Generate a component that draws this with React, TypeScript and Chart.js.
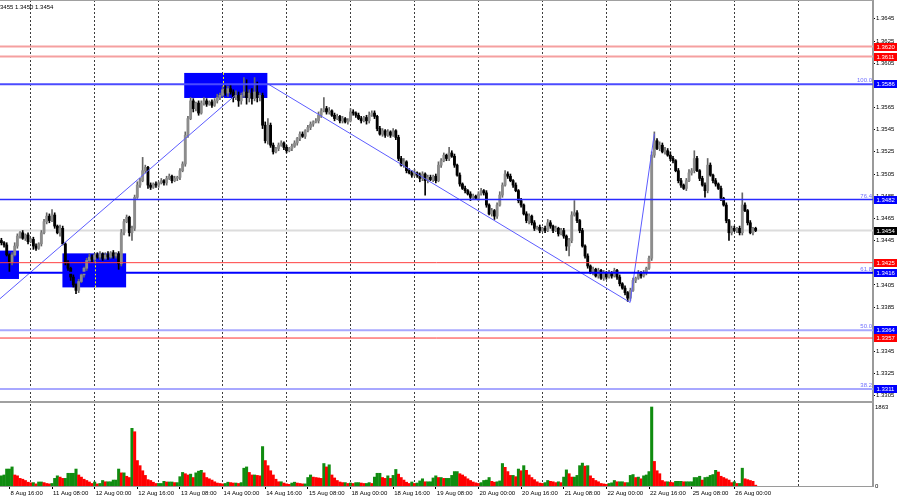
import React, { useEffect, useRef } from "react";
import { Chart, registerables } from "chart.js";

Chart.register(...registerables);

// ---------------- data (H1 bars, prices in pips above 1.3000) ----------------
const PIP_BASE = 1.3;
const PIP = 0.0001;
const FIRST_OPEN = 445;
const CLOSES = [
  443, 441, 432, 425, 432, 440, 449, 452, 447, 450,
  444, 446, 440, 438, 442, 452, 462, 467, 463, 468,
  458, 452, 456, 442, 425, 420, 412, 405, 400, 408,
  414, 420, 427, 430, 428, 432, 430, 433, 429, 432,
  430, 434, 431, 433, 424, 452, 462, 466, 452, 456,
  484, 495, 499, 508, 511, 495, 493, 496, 495, 497,
  499, 497, 501, 503, 499, 501, 502, 508, 514, 540,
  555, 571, 564, 569, 560, 569, 571, 568, 570, 567,
  571, 574, 576, 581, 578, 582, 579, 574, 576, 571,
  576, 579, 574, 578, 573, 579, 574, 576, 549, 535,
  549, 531, 525, 528, 531, 533, 529, 526, 528, 530,
  533, 537, 541, 539, 544, 547, 550, 552, 553, 558,
  562, 564, 561, 562, 558, 555, 557, 553, 555, 552,
  553, 561, 560, 558, 555, 553, 556, 553, 558, 560,
  557, 546, 541, 544, 540, 543, 540, 544, 538, 519,
  513, 516, 508, 506, 504, 506, 504, 501, 505, 499,
  502, 500, 503, 499, 513, 517, 522, 519, 524, 521,
  513, 504, 496, 492, 490, 487, 484, 485, 483, 487,
  490, 488, 477, 469, 472, 467, 477, 486, 495, 505,
  503, 499, 495, 490, 481, 477, 469, 463, 467, 461,
  456, 457, 454, 456, 454, 461, 458, 454, 456, 451,
  454, 449, 440, 445, 468, 470, 463, 454, 440, 431,
  422, 416, 419, 413, 418, 411, 416, 412, 416, 413,
  418, 412, 406, 402, 398, 393, 400, 409, 411, 416,
  413, 416, 420, 429, 522, 535, 528, 531, 525, 526,
  522, 519, 517, 508, 499, 495, 492, 499, 506, 508,
  519, 508, 501, 495, 490, 513, 504, 499, 496, 492,
  483, 477, 463, 452, 456, 454, 456, 452, 477, 472,
  461, 452, 456, 454,
];
const UP_WICK = [
  2, 1, 2, 1, 2, 3, 2, 1, 2, 1,
  2, 1, 2, 2, 1, 2, 2, 3, 2, 5,
  2, 1, 3, 2, 1, 2, 1, 2, 1, 2,
  2, 1, 2, 3, 2, 1, 2, 2, 1, 2,
  3, 1, 2, 1, 2, 3, 2, 2, 1, 2,
  2, 3, 2, 12, 2, 1, 2, 1, 2, 1,
  2, 1, 2, 2, 1, 2, 1, 2, 2, 3,
  2, 3, 2, 1, 2, 2, 3, 2, 1, 2,
  2, 3, 2, 3, 4, 2, 3, 2, 4, 3,
  2, 13, 11, 3, 4, 13, 9, 2, 2, 3,
  6, 2, 2, 1, 2, 2, 1, 2, 1, 2,
  2, 1, 2, 2, 1, 2, 2, 1, 2, 3,
  2, 10, 2, 3, 1, 2, 2, 1, 2, 1,
  2, 3, 2, 1, 2, 2, 1, 2, 3, 2,
  2, 1, 2, 2, 1, 2, 1, 2, 1, 2,
  2, 3, 1, 2, 2, 3, 1, 2, 2, 1,
  2, 2, 1, 2, 3, 2, 2, 1, 5, 2,
  2, 1, 2, 1, 2, 1, 2, 2, 1, 2,
  2, 1, 2, 1, 2, 1, 2, 3, 2, 3,
  2, 2, 1, 2, 1, 2, 1, 2, 2, 1,
  2, 1, 2, 1, 2, 3, 2, 1, 2, 1,
  2, 2, 1, 2, 3, 11, 2, 1, 2, 1,
  2, 1, 2, 1, 2, 1, 2, 1, 2, 1,
  2, 1, 2, 1, 2, 1, 2, 2, 1, 2,
  1, 2, 1, 2, 3, 8, 2, 3, 2, 3,
  2, 3, 2, 1, 2, 2, 1, 2, 3, 2,
  7, 2, 1, 2, 2, 6, 2, 1, 2, 1,
  2, 1, 2, 1, 2, 2, 1, 2, 11, 2,
  1, 2, 1, 1,
];
const DN_WICK = [
  2, 2, 1, 9, 2, 1, 2, 2, 1, 2,
  2, 1, 3, 2, 1, 2, 1, 2, 2, 1,
  2, 1, 3, 1, 2, 2, 3, 2, 3, 2,
  1, 2, 2, 1, 2, 2, 1, 2, 2, 1,
  2, 1, 2, 2, 5, 2, 2, 1, 3, 7,
  2, 1, 2, 1, 2, 3, 2, 1, 2, 2,
  1, 2, 2, 1, 2, 1, 2, 2, 1, 2,
  2, 1, 3, 2, 2, 1, 2, 2, 1, 2,
  1, 2, 2, 1, 2, 3, 2, 4, 2, 5,
  3, 2, 6, 4, 5, 2, 4, 3, 3, 2,
  3, 2, 2, 1, 2, 1, 2, 2, 1, 2,
  1, 2, 2, 1, 2, 1, 2, 2, 1, 2,
  2, 1, 2, 2, 1, 2, 1, 2, 2, 1,
  2, 1, 2, 2, 1, 2, 1, 3, 2, 1,
  2, 2, 1, 2, 2, 1, 2, 1, 2, 2,
  1, 2, 2, 1, 2, 1, 2, 3, 2, 13,
  2, 1, 2, 2, 1, 2, 1, 2, 2, 1,
  2, 1, 2, 1, 2, 1, 3, 2, 1, 2,
  1, 2, 2, 1, 2, 3, 2, 1, 2, 1,
  2, 1, 2, 1, 2, 2, 1, 2, 3, 2,
  2, 1, 2, 1, 2, 1, 2, 2, 1, 2,
  1, 2, 4, 9, 2, 1, 2, 2, 1, 2,
  2, 1, 2, 1, 2, 1, 2, 2, 1, 2,
  1, 2, 2, 1, 2, 3, 2, 1, 2, 1,
  2, 1, 2, 1, 2, 2, 1, 2, 1, 2,
  1, 2, 2, 1, 2, 2, 1, 2, 1, 2,
  2, 1, 2, 1, 6, 2, 1, 2, 2, 1,
  2, 1, 2, 7, 2, 1, 2, 2, 2, 1,
  2, 1, 2, 1,
];
const VOLUMES = [
  240, 260, 400, 400, 450, 260, 240, 180, 160, 130, 90,
  75, 80, 50, 95, 95, 80, 60, 50, 60, 180, 240, 210, 180, 180, 300, 300, 300, 400, 260, 210, 160, 130, 95, 60,
  95, 50, 60, 130, 100, 100, 100, 140, 140, 400, 310, 310, 230, 200, 1360, 1280, 600, 480, 360, 250, 150, 130, 90, 60,
  60, 60, 110, 95, 95, 95, 80, 80, 220, 320, 290, 260, 280, 200, 310, 350, 370, 310, 200, 170, 140, 100, 70, 60,
  50, 60, 90, 80, 70, 70, 60, 80, 420, 450, 320, 260, 260, 250, 240, 930, 600, 480, 360, 260, 160, 100, 100, 70,
  50, 40, 70, 90, 70, 60, 50, 50, 200, 260, 210, 200, 190, 180, 530, 450, 500, 260, 190, 130, 95, 80, 80, 60,
  70, 60, 80, 80, 70, 60, 60, 80, 60, 210, 300, 300, 200, 180, 240, 180, 250, 390, 280, 200, 140, 90, 60, 95,
  60, 70, 120, 170, 100, 100, 100, 190, 240, 200, 200, 180, 180, 180, 250, 340, 340, 290, 260, 220, 170, 130, 95, 75,
  60, 80, 130, 140, 200, 110, 90, 100, 120, 530, 440, 340, 250, 250, 220, 400, 360, 480, 370, 260, 200, 150, 100, 70,
  60, 80, 130, 110, 100, 80, 100, 80, 210, 380, 290, 210, 210, 250, 480, 540, 470, 480, 240, 180, 130, 100, 60, 50,
  40, 60, 75, 130, 100, 100, 100, 80, 80, 250, 270, 200, 210, 170, 240, 260, 340, 1863, 580, 360, 290, 130, 100, 100,
  90, 80, 110, 110, 110, 100, 100, 100, 100, 200, 200, 230, 140, 200, 210, 250, 270, 370, 330, 230, 200, 170, 140, 80,
  100, 60, 60, 420, 170, 150, 130, 110, 20,
];
const DAY_START_BARS = [11, 35, 59, 83, 107, 131, 155, 179, 203, 227, 251, 275, 299];
const LABEL_BARS = [3, 19, 35, 51, 67, 83, 99, 115, 131, 147, 163, 179, 195, 211, 227, 243, 259, 275];
const TIME_LABELS = [
  "8 Aug 16:00", "11 Aug 08:00", "12 Aug 00:00", "12 Aug 16:00", "13 Aug 08:00", "14 Aug 00:00",
  "14 Aug 16:00", "15 Aug 08:00", "18 Aug 00:00", "18 Aug 16:00", "19 Aug 08:00", "20 Aug 00:00",
  "20 Aug 16:00", "21 Aug 08:00", "22 Aug 00:00", "22 Aug 16:00", "25 Aug 08:00", "26 Aug 00:00",
];
const PRICE_TICKS = [
  1.3305, 1.3325, 1.3345, 1.3365, 1.3385, 1.3405, 1.3425, 1.3445, 1.3465,
  1.3485, 1.3505, 1.3525, 1.3545, 1.3565, 1.3585, 1.3605, 1.3625, 1.3645,
];
const VOLUME_TICKS = [0, 1863];
const LEVEL_PRICES = [1.362, 1.3611, 1.3586, 1.3482, 1.3425, 1.3416, 1.3364, 1.3357, 1.3311];
const BID_PRICE = 1.3454;
const AXIS_TAG_PRICES = [1.362, 1.3611, 1.3586, 1.3482, 1.3454, 1.3425, 1.3416, 1.3364, 1.3357, 1.3311];
const FIB_PRICES = [1.3586, 1.3482, 1.3416, 1.3364, 1.3311];
const FIB_TEXT = ["100.0", "76.4", "61.8", "50.0", "38.2"];
// zones: [fromBar, toBar, topPrice, bottomPrice]
const ZONES = [
  [-5, 6.6, 1.34359, 1.34103],
  [22.9, 46.8, 1.34334, 1.34027],
  [68.6, 99.8, 1.35962, 1.35736],
];
// trend lines: [[bar, price], [bar, price]]
const TREND_LINES = [
  [[-5, 1.33832], [87.3, 1.35751]],
  [[99.8, 1.35866], [235.9, 1.33891]],
  [[235.9, 1.33891], [245.0, 1.35414]],
];
const HEADER_QUOTES = [1.3455, 1.345, 1.3454];

// ---------------- view / style ----------------
const X_MIN = -0.52;
const X_MAX = 327.04;
const Y_MIN = 1.33002;
const Y_MAX = 1.3662;
const VOL_MAX = 1934;
const FONT = "'Liberation Sans', Arial, sans-serif";
const LEVEL_COLORS = ["#f5a0a0", "#f5a0a0", "#4b4bff", "#2a2aff", "#ff4040", "#0000ff", "#a8a8ff", "#ff3030", "#a8a8ff"];
const LEVEL_WIDTHS = [2, 2, 2, 1.4, 1, 2, 2, 1, 2];
const AXIS_TAG_COLORS = ["#ff0000", "#ff0000", "#0000ff", "#0000ff", "#000000", "#ff0000", "#0000ff", "#0000ff", "#ff0000", "#0000ff"];

export default function App() {
  const priceRef = useRef<HTMLCanvasElement>(null);
  const volRef = useRef<HTMLCanvasElement>(null);

  useEffect(() => {
    const opens = CLOSES.map((c, i) => (i === 0 ? FIRST_OPEN : CLOSES[i - 1]));
    const toPrice = (p: number) => +(PIP_BASE + p * PIP).toFixed(5);
    const up = CLOSES.map((c, i) => c >= opens[i]);
    const bodyData = CLOSES.map((c, i) => ({ x: i, y: [toPrice(opens[i]), toPrice(c)] }));
    const wickData = CLOSES.map((c, i) => ({
      x: i,
      y: [
        toPrice(Math.min(opens[i], c) - (DN_WICK[i] ?? 1)),
        toPrice(Math.max(opens[i], c) + (UP_WICK[i] ?? 1)),
      ],
    }));

    const levelSets = LEVEL_PRICES.map((p, k) => ({
      type: "line",
      data: [{ x: X_MIN - 10, y: p }, { x: X_MAX + 10, y: p }],
      borderColor: LEVEL_COLORS[k],
      borderWidth: LEVEL_WIDTHS[k],
      pointRadius: 0,
      order: -2,
    }));
    const trendSets = TREND_LINES.map((seg) => ({
      type: "line",
      data: seg.map(([x, y]) => ({ x, y })),
      borderColor: "#5c5cff",
      borderWidth: 1,
      pointRadius: 0,
      order: -1,
    }));

    const decor = {
      id: "decor",
      beforeDatasetsDraw(chart: any) {
        const { ctx, chartArea: a, scales } = chart;
        const x = scales.x, y = scales.y;
        ctx.save();
        ctx.beginPath();
        ctx.rect(a.left, a.top, a.width, a.height);
        ctx.clip();
        ZONES.forEach(([b0, b1, p0, p1]) => {
          const X0 = x.getPixelForValue(b0), X1 = x.getPixelForValue(b1);
          const Y0 = y.getPixelForValue(p0), Y1 = y.getPixelForValue(p1);
          ctx.fillStyle = "#0000ff";
          ctx.fillRect(X0, Y0, X1 - X0, Y1 - Y0);
          ctx.strokeStyle = "#ffff00";
          ctx.lineWidth = 1;
          ctx.setLineDash([2, 2]);
          DAY_START_BARS.forEach((d) => {
            const gx = Math.round(x.getPixelForValue(d)) + 0.5;
            if (gx > X0 && gx < X1) {
              ctx.beginPath();
              ctx.moveTo(gx, Y0);
              ctx.lineTo(gx, Y1);
              ctx.stroke();
            }
          });
          ctx.setLineDash([]);
        });
        ctx.restore();
      },
      afterDraw(chart: any) {
        const { ctx, chartArea: a, scales } = chart;
        const y = scales.y;
        ctx.save();
        ctx.fillStyle = "#a0a0a0";
        ctx.fillRect(0, 0, a.right, 1);
        ctx.fillRect(0, a.bottom, a.right + 1, 1);
        ctx.font = `6px ${FONT}`;
        ctx.fillStyle = "#7070ff";
        ctx.textAlign = "right";
        ctx.textBaseline = "alphabetic";
        FIB_PRICES.forEach((p, k) => ctx.fillText(FIB_TEXT[k], a.right - 1, y.getPixelForValue(p) - 2));
        ctx.textAlign = "left";
        ctx.textBaseline = "middle";
        AXIS_TAG_PRICES.forEach((p, k) => {
          const py = Math.round(y.getPixelForValue(p));
          ctx.fillStyle = AXIS_TAG_COLORS[k];
          ctx.fillRect(a.right + 1, py - 4, 23, 8);
          ctx.fillStyle = "#ffffff";
          ctx.fillText(p.toFixed(4), a.right + 3.5, py + 0.5);
        });
        ctx.fillStyle = "#000";
        ctx.fillText(HEADER_QUOTES.map((v) => v.toFixed(4)).join(" "), -5, 7);
        ctx.restore();
      },
    };

    const priceChart = new Chart(priceRef.current as HTMLCanvasElement, {
      type: "bar",
      data: {
        datasets: [
          ...levelSets,
          ...trendSets,
          {
            type: "bar",
            data: bodyData,
            backgroundColor: up.map((u) => (u ? "#8c8c8c" : "#000000")),
            barThickness: 2.2,
            minBarLength: 1,
            grouped: false,
            borderWidth: 0,
            order: 0,
          },
          {
            type: "bar",
            data: wickData,
            backgroundColor: up.map((u) => (u ? "#666666" : "#000000")),
            barThickness: 1,
            grouped: false,
            borderWidth: 0,
            order: 1,
          },
          {
            type: "line",
            data: [{ x: X_MIN - 10, y: BID_PRICE }, { x: X_MAX + 10, y: BID_PRICE }],
            borderColor: "#dcdcdc",
            borderWidth: 2,
            pointRadius: 0,
            order: 5,
          },
        ] as any,
      },
      options: {
        responsive: false,
        animation: false,
        events: [],
        layout: { padding: 0, autoPadding: false } as any,
        plugins: { legend: { display: false }, tooltip: { enabled: false } },
        scales: {
          x: {
            type: "linear",
            offset: false,
            min: X_MIN,
            max: X_MAX,
            position: "bottom",
            afterBuildTicks: (s: any) => { s.ticks = DAY_START_BARS.map((v) => ({ value: v })); },
            afterFit: (s: any) => { s.height = 0; s.paddingLeft = 0; s.paddingRight = 0; },
            ticks: { display: false },
            grid: { offset: false, color: "#3c3c3c", lineWidth: 1, drawTicks: false },
            border: { display: false, dash: [2, 2] },
          },
          y: {
            type: "linear",
            position: "right",
            min: Y_MIN,
            max: Y_MAX,
            afterBuildTicks: (s: any) => { s.ticks = PRICE_TICKS.map((v) => ({ value: v })); },
            afterFit: (s: any) => { s.width = 27; s.paddingTop = 0; s.paddingBottom = 0; },
            ticks: {
              callback: (v: any) => Number(v).toFixed(4),
              font: { family: FONT, size: 6 },
              color: "#000",
              padding: 1,
              autoSkip: false,
            },
            grid: { drawOnChartArea: false, drawTicks: true, tickLength: 2, color: "#000" },
            border: { display: true, color: "#9a9a9a", width: 2 },
          },
        } as any,
      },
      plugins: [decor],
    });

    const volColors = VOLUMES.map((v, i) => (i === 0 || v >= VOLUMES[i - 1] ? "#108c10" : "#ff0000"));
    const volDecor = {
      id: "volDecor",
      afterDraw(chart: any) {
        const { ctx, chartArea: a } = chart;
        ctx.save();
        ctx.fillStyle = "#a0a0a0";
        ctx.fillRect(0, 0, a.right + 1, 2);
        ctx.restore();
      },
    };
    const volChart = new Chart(volRef.current as HTMLCanvasElement, {
      type: "bar",
      data: {
        datasets: [
          {
            data: VOLUMES.map((v, i) => ({ x: i, y: v })),
            backgroundColor: volColors,
            barThickness: 2.4,
            grouped: false,
            borderWidth: 0,
            xAxisID: "x",
            yAxisID: "y",
          },
        ] as any,
      },
      options: {
        responsive: false,
        animation: false,
        events: [],
        layout: { padding: { top: 3, left: 0, right: 0, bottom: 0 }, autoPadding: false } as any,
        plugins: { legend: { display: false }, tooltip: { enabled: false } },
        scales: {
          xg: {
            type: "linear",
            offset: false,
            min: X_MIN,
            max: X_MAX,
            position: "top",
            afterBuildTicks: (s: any) => { s.ticks = DAY_START_BARS.map((v) => ({ value: v })); },
            afterFit: (s: any) => { s.height = 0; s.paddingLeft = 0; s.paddingRight = 0; },
            ticks: { display: false },
            grid: { offset: false, color: "#3c3c3c", lineWidth: 1, drawTicks: false },
            border: { display: false, dash: [2, 2] },
          },
          x: {
            type: "linear",
            offset: false,
            min: X_MIN,
            max: X_MAX,
            position: "bottom",
            afterBuildTicks: (s: any) => { s.ticks = LABEL_BARS.map((v) => ({ value: v })); },
            afterFit: (s: any) => { s.height = 14; s.paddingLeft = 0; s.paddingRight = 0; },
            ticks: {
              callback: (v: any) => {
                const k = LABEL_BARS.indexOf(Number(v));
                return k >= 0 ? TIME_LABELS[k] : "";
              },
              align: "start",
              labelOffset: 1,
              maxRotation: 0,
              minRotation: 0,
              autoSkip: false,
              padding: 1,
              font: { family: FONT, size: 6 },
              color: "#000",
            },
            grid: { offset: false, drawOnChartArea: false, drawTicks: true, tickLength: 3, color: "#000" },
            border: { display: true, color: "#9a9a9a", width: 1 },
          },
          y: {
            type: "linear",
            position: "right",
            min: 0,
            max: VOL_MAX,
            afterBuildTicks: (s: any) => { s.ticks = VOLUME_TICKS.map((v) => ({ value: v })); },
            afterFit: (s: any) => { s.width = 27; s.paddingTop = 0; s.paddingBottom = 0; },
            ticks: {
              callback: (v: any) => String(v),
              font: { family: FONT, size: 6 },
              color: "#000",
              padding: 2,
              autoSkip: false,
            },
            grid: { display: false, drawTicks: false },
            border: { display: true, color: "#9a9a9a", width: 2 },
          },
        } as any,
      },
      plugins: [volDecor],
    });

    return () => {
      priceChart.destroy();
      volChart.destroy();
    };
  }, []);

  return (
    <div style={{ position: "absolute", left: 0, top: 0, width: 900, height: 500, background: "#ffffff", overflow: "hidden" }}>
      <canvas ref={priceRef} width={900} height={401} style={{ position: "absolute", left: 0, top: 0, width: 900, height: 401 }} />
      <canvas ref={volRef} width={900} height={99} style={{ position: "absolute", left: 0, top: 401, width: 900, height: 99 }} />
    </div>
  );
}
